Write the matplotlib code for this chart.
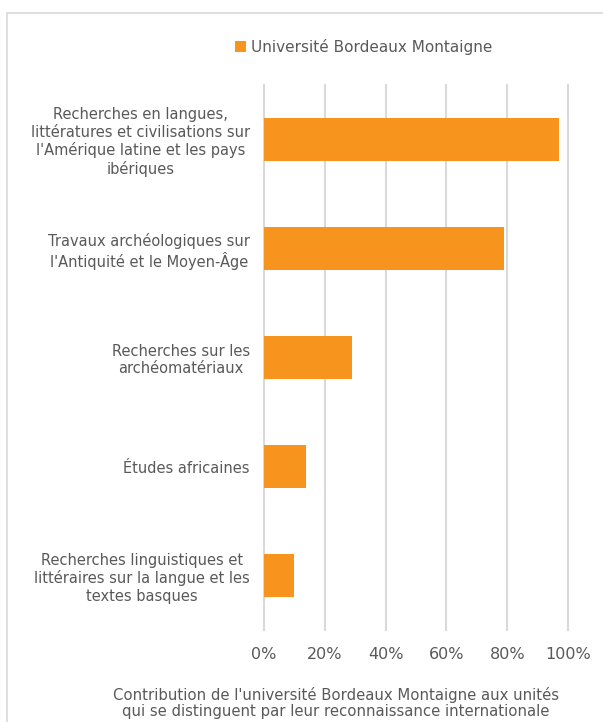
import matplotlib.pyplot as plt
from matplotlib.patches import Rectangle
from matplotlib.ticker import PercentFormatter

# Data
categories = [
    "Recherches en langues,\nlittératures et civilisations sur\nl'Amérique latine et les pays\nibériques",
    "Travaux archéologiques sur\nl'Antiquité et le Moyen-Âge",
    "Recherches sur les\narchéomatériaux",
    "Études africaines",
    "Recherches linguistiques et\nlittéraires sur la langue et les\ntextes basques",
]
values = [0.97, 0.79, 0.29, 0.14, 0.10]
series_name = "Université Bordeaux Montaigne"
x_ticks = [0, 0.2, 0.4, 0.6, 0.8, 1.0]
x_title = ("Contribution de l'université Bordeaux Montaigne aux unités\n"
           "qui se distinguent par leur reconnaissance internationale")

bar_color = "#F7941D"
text_color = "#595959"
grid_color = "#D9D9D9"

plt.rcParams['font.family'] = ['DejaVu Sans']

fig = plt.figure(figsize=(6.03, 7.22), dpi=100)

# chart area border (cut off at right and bottom like the reference)
fig.patches.append(Rectangle((7 / 603, -0.1), 1.2, (722 - 13) / 722 + 0.1,
                             transform=fig.transFigure, fill=False,
                             edgecolor="#D9D9D9", linewidth=1.2))

ax = fig.add_axes([0.4373, 0.1274, 0.5052, 0.7549])

positions = list(range(len(categories)))
ax.barh(positions, values, height=0.4, color=bar_color, label=series_name, zorder=3)

ax.set_ylim(len(categories) - 0.5, -0.5)
ax.set_xlim(0, 1.0)
ax.set_xticks(x_ticks)
ax.xaxis.set_major_formatter(PercentFormatter(1.0, decimals=0))
ax.set_yticks(positions)
ax.set_yticklabels(categories, ha='right', multialignment='center', linespacing=1.2)

ax.grid(axis='x', color=grid_color, linewidth=1.5, zorder=0)
for line in ax.get_xgridlines():
    line.set_clip_on(False)  # keep the 0% line full width
for s in ax.spines.values():
    s.set_visible(False)
ax.tick_params(axis='both', length=0, colors=text_color)
ax.tick_params(axis='y', labelsize=10.5, pad=10)
ax.tick_params(axis='x', labelsize=11.5, pad=12)

# axis title, placed below the tick labels
fig.text(336 / 603, 1 - 703 / 722, x_title, ha='center', va='center',
         color=text_color, fontsize=10.7, linespacing=1.1)

fig.legend(loc='upper center', bbox_to_anchor=(0.603, 0.965), frameon=False,
           fontsize=11, labelcolor=text_color, handlelength=0.7, handleheight=0.7,
           handletextpad=0.3)

plt.savefig("out.png", dpi=100)
